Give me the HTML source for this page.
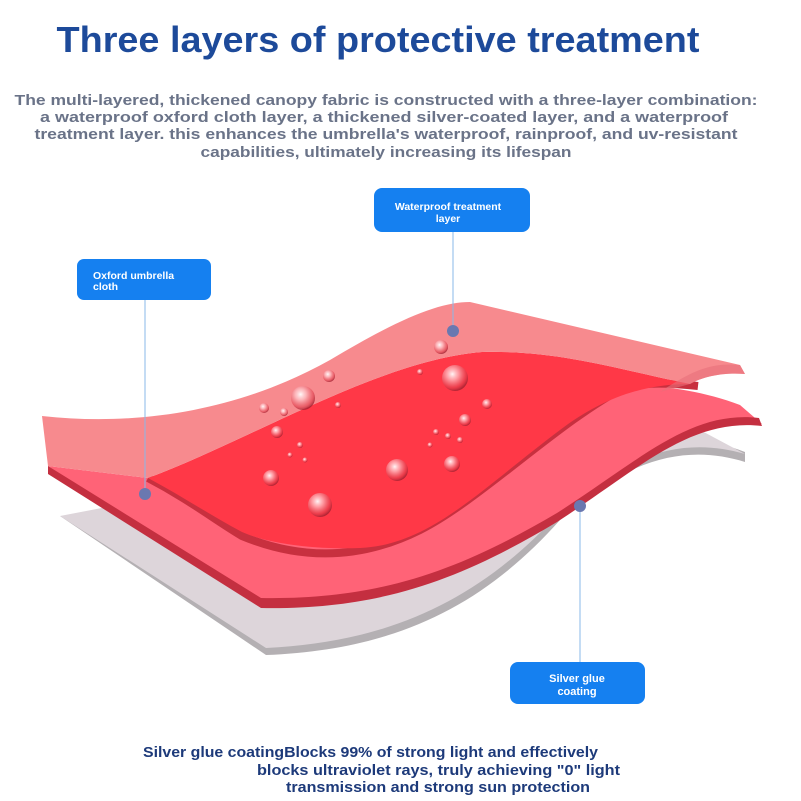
<!DOCTYPE html>
<html><head><meta charset="utf-8"><style>
html,body{margin:0;padding:0;background:#fff;}
svg{display:block;}
text{font-family:"Liberation Sans",sans-serif;font-weight:bold;}
</style></head><body>
<svg width="801" height="801" viewBox="0 0 801 801" xmlns="http://www.w3.org/2000/svg">
<defs>
<radialGradient id="drop" cx="40%" cy="35%" r="65%">
<stop offset="0" stop-color="#fff" stop-opacity="0.95"/>
<stop offset="0.35" stop-color="#ffc8cc" stop-opacity="0.7"/>
<stop offset="0.8" stop-color="#e0404e" stop-opacity="0.6"/>
<stop offset="1" stop-color="#a02030" stop-opacity="0.8"/>
</radialGradient>
</defs>
<rect width="801" height="801" fill="#fff"/>
<text x="378" y="52" font-size="36" fill="#1d4a9a" text-anchor="middle" textLength="643" lengthAdjust="spacingAndGlyphs">Three layers of protective treatment</text>
<g fill="#6a7388" font-size="15" text-anchor="middle">
<text x="386" y="105" textLength="743" lengthAdjust="spacingAndGlyphs">The multi-layered, thickened canopy fabric is constructed with a three-layer combination:</text>
<text x="384" y="122" textLength="688" lengthAdjust="spacingAndGlyphs">a waterproof oxford cloth layer, a thickened silver-coated layer, and a waterproof</text>
<text x="386" y="139" textLength="703" lengthAdjust="spacingAndGlyphs">treatment layer. this enhances the umbrella's waterproof, rainproof, and uv-resistant</text>
<text x="386" y="157" textLength="371" lengthAdjust="spacingAndGlyphs">capabilities, ultimately increasing its lifespan</text>
</g>
<!-- gray layer -->
<path d="M60,516 L266,655 C390,650 480,610 560,520 C630,455 690,445 745,462 L745,452 C690,430 620,440 560,495 C480,560 390,600 300,580 Z" fill="#b4b0b3"/>
<path d="M60,516 L266,648 C390,642 480,600 560,512 C630,448 690,438 745,454 L700,430 L300,470 Z" fill="#ddd5da"/>
<!-- middle layer -->
<path d="M48,466 L261,606 C380,608 460,578 557,520 C640,466 690,418 762,424 L740,405 C700,390 660,385 620,385 L148,478 Z" fill="#ff6377"/>
<path d="M48,466 L261,598 C380,600 460,570 557,513 C640,460 690,410 759,418 L762,426 C690,418 640,468 557,522 C460,580 380,610 261,608 L48,474 Z" fill="#c42f40"/>
<path d="M148,478 C190,500 215,520 242,536 C300,560 360,560 420,530 C480,500 560,420 627,386 C650,382 680,384 698,386" fill="none" stroke="#c8303f" stroke-width="8"/>
<!-- bright red -->
<path d="M148,478 C250,440 380,360 482,352 C560,350 620,370 690,384 C640,384 600,400 560,430 C480,490 430,545 360,548 C300,550 260,540 242,532 C210,515 180,495 148,478 Z" fill="#ff3847"/>
<!-- top layer salmon -->
<path d="M42,416 C150,428 250,405 330,360 C400,318 440,302 470,302 L740,365 L745,374 C720,372 700,378 690,384 C620,370 560,350 482,352 C380,360 250,440 148,478 L48,466 Z" fill="#f78a8e"/>
<path d="M690,384 C700,378 720,372 745,374 L740,365 C710,362 690,372 660,392 Z" fill="#e8707a" opacity="0.6"/>
<!-- drops -->
<g fill="url(#drop)">
<circle cx="303" cy="398" r="12"/><circle cx="455" cy="378" r="13"/>
<circle cx="397" cy="470" r="11"/><circle cx="320" cy="505" r="12"/>
<circle cx="271" cy="478" r="8"/><circle cx="452" cy="464" r="8"/>
<circle cx="441" cy="347" r="7"/><circle cx="329" cy="376" r="6"/>
<circle cx="264" cy="408" r="5"/><circle cx="277" cy="432" r="6"/>
<circle cx="465" cy="420" r="6"/><circle cx="487" cy="404" r="5"/>
<circle cx="284" cy="412" r="4"/><circle cx="338" cy="405" r="3"/>
<circle cx="448" cy="436" r="3"/><circle cx="436" cy="432" r="3"/>
<circle cx="460" cy="440" r="3"/><circle cx="430" cy="445" r="2.5"/>
<circle cx="300" cy="445" r="3"/><circle cx="290" cy="455" r="2.5"/>
<circle cx="305" cy="460" r="2.5"/><circle cx="420" cy="372" r="3"/>
</g>
<!-- leaders -->
<g stroke="#8ab8e8" stroke-width="1">
<line x1="453" y1="232" x2="453" y2="331"/>
<line x1="145" y1="300" x2="145" y2="494"/>
<line x1="580" y1="506" x2="580" y2="662"/>
</g>
<g fill="#6a78b0">
<circle cx="453" cy="331" r="6"/><circle cx="145" cy="494" r="6"/><circle cx="580" cy="506" r="6"/>
</g>
<!-- boxes -->
<rect x="374" y="188" width="156" height="44" rx="8" fill="#1580f0"/>
<rect x="77" y="259" width="134" height="41" rx="7" fill="#1580f0"/>
<rect x="510" y="662" width="135" height="42" rx="8" fill="#1580f0"/>
<g fill="#fff" font-size="10.5">
<text x="448" y="210" text-anchor="middle">Waterproof treatment</text>
<text x="448" y="222" text-anchor="middle">layer</text>
<text x="93" y="279">Oxford umbrella</text>
<text x="93" y="290">cloth</text>
<text x="577" y="682" text-anchor="middle" font-size="11">Silver glue</text>
<text x="577" y="695" text-anchor="middle" font-size="11">coating</text>
</g>
<g fill="#1d3a7a" font-size="15">
<text x="143" y="757" textLength="455" lengthAdjust="spacingAndGlyphs">Silver glue coatingBlocks 99% of strong light and effectively</text>
<text x="257" y="775" textLength="363" lengthAdjust="spacingAndGlyphs">blocks ultraviolet rays, truly achieving "0" light</text>
<text x="286" y="792" textLength="304" lengthAdjust="spacingAndGlyphs">transmission and strong sun protection</text>
</g>
</svg>
</body></html>
